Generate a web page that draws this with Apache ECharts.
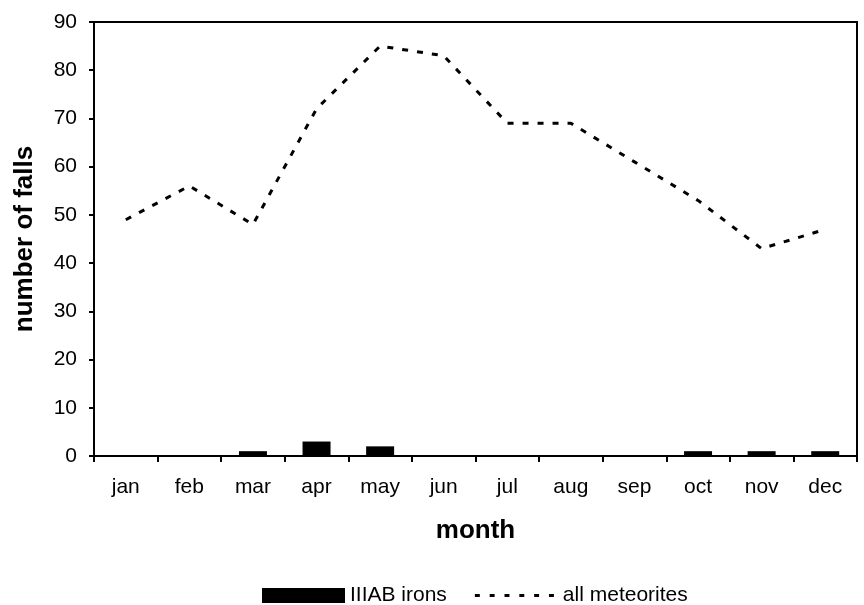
<!DOCTYPE html>
<html>
<head>
<meta charset="utf-8">
<script src="https://cdn.jsdelivr.net/npm/echarts@6/dist/echarts.min.js"></script>
<style>html,body{margin:0;padding:0;background:#fff}#c{width:864px;height:605px}</style>
</head>
<body>
<div id="c"></div>
<script>
var months = ['jan','feb','mar','apr','may','jun','jul','aug','sep','oct','nov','dec'];
var ironsFalls = [0,0,1,3,2,0,0,0,0,1,1,1];
var allFalls = [49,56,48,72,85,83,69,69,61,53,43,47];
var yTicks = [0,10,20,30,40,50,60,70,80,90];

var FONT = '"Liberation Sans", Arial, sans-serif';
var dashIcon = 'path://M0,0h0.01v0.01h-0.01z M84,14.99h0.01v0.01h-0.01z ' +
  'M0,6h5v3h-5z M15,6h5v3h-5z M30,6h5v3h-5z M45,6h5v3h-5z M60,6h5v3h-5z M75,6h5v3h-5z';
var chart = echarts.init(document.getElementById('c'), null, {renderer:'canvas'});
chart.setOption({
  animation: false,
  backgroundColor: '#fff',
  textStyle: {fontFamily: FONT, color: '#000'},
  grid: {left: 94, right: 7, top: 22, bottom: 149, show: true, borderColor: '#000', borderWidth: 2, backgroundColor: 'transparent'},
  legend: {
    data: [{name: 'IIIAB irons', icon: 'rect'}, {name: 'all meteorites', icon: dashIcon}],
    left: 257, top: 580, itemWidth: 83, itemHeight: 15, itemGap: 28,
    textStyle: {fontFamily: FONT, fontSize: 21, color: '#000'}
  },
  xAxis: {
    type: 'category', data: months, boundaryGap: true,
    name: 'month', nameLocation: 'middle', nameGap: 62,
    nameTextStyle: {fontFamily: FONT, fontSize: 26, fontWeight: 'bold', color: '#000'},
    axisLine: {lineStyle: {color: '#000', width: 2}},
    axisTick: {show: true, length: 6, lineStyle: {color: '#000', width: 2}},
    axisLabel: {fontFamily: FONT, fontSize: 21, color: '#000', margin: 21},
    splitLine: {show: false}
  },
  yAxis: {
    type: 'value', min: yTicks[0], max: yTicks[yTicks.length-1], interval: 10,
    name: 'number of falls', nameLocation: 'middle', nameGap: 56, nameRotate: 90,
    nameTextStyle: {fontFamily: FONT, fontSize: 26, fontWeight: 'bold', color: '#000'},
    axisLine: {show: true, lineStyle: {color: '#000', width: 2}},
    axisTick: {show: true, length: 5, lineStyle: {color: '#000', width: 2}},
    axisLabel: {fontFamily: FONT, fontSize: 21, color: '#000', margin: 17},
    splitLine: {show: false}
  },
  series: [{
    name: 'IIIAB irons', type: 'bar', data: ironsFalls, barWidth: 28,
    itemStyle: {color: '#000'}
  }, {
    name: 'all meteorites', type: 'line', data: allFalls, symbol: 'none',
    lineStyle: {color: '#000', width: 3, type: [6, 9]},
    itemStyle: {color: '#000'}
  }]
});
</script>
</body>
</html>
